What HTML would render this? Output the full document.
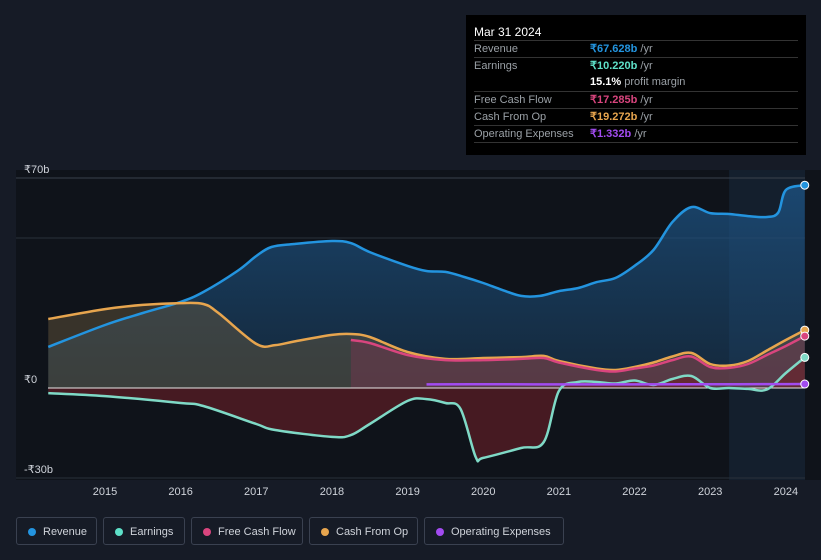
<!DOCTYPE html>
<html><head><meta charset="utf-8"><style>
body{margin:0;background:#161b26;font-family:"Liberation Sans",sans-serif;}
#wrap{position:relative;width:821px;height:560px;overflow:hidden;background:#161b26}
.tip{position:absolute;left:466px;top:15px;width:340px;height:140px;background:#000;color:#fff;font-size:11px}
.tip .h{position:absolute;left:8px;top:10px;font-size:12px}
.row{position:absolute;left:8px;width:324px;height:17px;border-top:1px solid #333;line-height:17px}
.row .l{position:absolute;left:0;color:#9aa0a6}
.row .v{position:absolute;left:116px;font-weight:bold}
.row .v span{color:#9aa0a6;font-weight:normal}
.leg{position:absolute;top:517px;height:28px;border:1px solid #3a4150;border-radius:3px;color:#cfd3da;font-size:11px;line-height:28px;box-sizing:border-box;padding-left:26px}
.leg i{position:absolute;left:11px;top:10px;width:8px;height:8px;border-radius:50%}
</style></head><body>
<div id="wrap">
<svg id="svg" width="821" height="560" style="position:absolute;left:0;top:0"><defs><linearGradient id="rg" x1="0" y1="0" x2="0" y2="1"><stop offset="0" stop-color="#1d5486" stop-opacity="0.75"/><stop offset="1" stop-color="#1d4e78" stop-opacity="0.35"/></linearGradient></defs></svg>
<div class="tip">
<div class="h">Mar 31 2024</div>
<div class="row" style="top:25px"><span class="l">Revenue</span><span class="v" style="color:#2394df">₹67.628b <span>/yr</span></span></div>
<div class="row" style="top:42px"><span class="l">Earnings</span><span class="v" style="color:#5ee0c8">₹10.220b <span>/yr</span></span></div>
<div class="row" style="top:59px;border-top:none"><span class="v" style="color:#fff">15.1% <span>profit margin</span></span></div>
<div class="row" style="top:76px"><span class="l">Free Cash Flow</span><span class="v" style="color:#d9457e">₹17.285b <span>/yr</span></span></div>
<div class="row" style="top:93px"><span class="l">Cash From Op</span><span class="v" style="color:#e7a54e">₹19.272b <span>/yr</span></span></div>
<div class="row" style="top:110px"><span class="l">Operating Expenses</span><span class="v" style="color:#a24bf0">₹1.332b <span>/yr</span></span></div>
<div class="row" style="top:127px;height:1px"></div>
</div>
<div class="leg" style="left:16px;width:81px"><i style="background:#2394df"></i>Revenue</div>
<div class="leg" style="left:103px;width:82px"><i style="background:#5ee0c8"></i>Earnings</div>
<div class="leg" style="left:191px;width:112px"><i style="background:#d9457e"></i>Free Cash Flow</div>
<div class="leg" style="left:309px;width:109px"><i style="background:#e7a54e"></i>Cash From Op</div>
<div class="leg" style="left:424px;width:140px"><i style="background:#a24bf0"></i>Operating Expenses</div>
</div>
<script>
const yearTicks=[2015,2016,2017,2018,2019,2020,2021,2022,2023,2024];
const yTicks=[70,0,-30];
const yTickLabels=["₹70b","₹0","-₹30b"];
const revT=[2014.25,2015,2015.5,2016,2016.3,2016.75,2017,2017.2,2017.5,2018,2018.25,2018.5,2019,2019.25,2019.5,2019.75,2020,2020.25,2020.5,2020.75,2021,2021.25,2021.5,2021.75,2022,2022.25,2022.5,2022.75,2023,2023.25,2023.5,2023.75,2023.9,2024,2024.25];
const revV=[13.7,21,25,28.7,32,39,44,47,48,49,48.3,45.3,40.7,39,38.7,37,35,32.7,30.7,30.7,32.3,33.3,35.3,36.7,40.7,46,55.3,60.3,58.3,58,57.3,57,58.5,66,67.6];
const earnT=[2014.25,2015,2016,2016.3,2017,2017.25,2018,2018.25,2018.5,2019,2019.25,2019.5,2019.7,2019.9,2020,2020.5,2020.8,2021,2021.25,2021.5,2021.75,2022,2022.25,2022.5,2022.75,2023,2023.25,2023.5,2023.75,2024,2024.25];
const earnV=[-1.7,-2.7,-5,-6,-12,-14,-16.3,-15.7,-12,-4.3,-3.7,-5,-7,-23,-23.3,-20,-18,-1,2,2,1.5,2.5,1,3,4,0,0,-0.3,-0.5,5,10.2];
const cfoT=[2014.25,2015,2015.5,2016,2016.3,2016.5,2017,2017.25,2017.5,2018,2018.25,2018.5,2019,2019.5,2020,2020.5,2020.8,2021,2021.5,2021.75,2022,2022.25,2022.5,2022.75,2023,2023.25,2023.5,2023.75,2024,2024.25];
const cfoV=[23,26.3,27.7,28.3,28,25,14.7,14.3,15.5,17.7,18,17,12,9.7,10,10.3,10.7,9,6.5,6,7,8.5,10.5,11.7,8,7.5,9,12.5,16,19.3];
const fcfT=[2018.25,2018.5,2019,2019.5,2020,2020.5,2020.8,2021,2021.5,2021.75,2022,2022.25,2022.5,2022.75,2023,2023.25,2023.5,2023.75,2024,2024.25];
const fcfV=[16,15,11,9.3,9.3,9.7,10,8.5,6,5.5,6.5,7.5,9.3,10.5,7,6.7,8,11,14,17.3];
const opxT=[2019.25,2020,2021,2022,2023,2024,2024.25];
const opxV=[1.2,1.25,1.2,1.2,1.25,1.3,1.33];

const X=t=>105+(t-2015)*75.65, Y=v=>388-v*3;
const svg=document.getElementById('svg'),NS='http://www.w3.org/2000/svg';
function mk(tag,at,name){const e=document.createElementNS(NS,tag);for(const k in at)e.setAttribute(k,at[k]);


svg.appendChild(e);return e;}
function path(T,V){const p=T.map((t,i)=>[X(t),Y(V[i])]);let d='M'+p[0][0]+','+p[0][1];
for(let i=0;i<p.length-1;i++){const p0=p[i-1]||p[i],p1=p[i],p2=p[i+1],p3=p[i+2]||p2;
d+=`C${p1[0]+(p2[0]-p0[0])/6},${p1[1]+(p2[1]-p0[1])/6} ${p2[0]-(p3[0]-p1[0])/6},${p2[1]-(p3[1]-p1[1])/6} ${p2[0]},${p2[1]}`;}return d;}
function area(T,V){return path(T,V)+`L${X(T[T.length-1])},${Y(0)}L${X(T[0])},${Y(0)}Z`;}
mk('rect',{x:16,y:170,width:805,height:310,fill:'#0f131a'},'plot-bg');
mk('rect',{x:X(2023.25),y:170,width:805-X(2023.25),height:310,fill:'#17283a',opacity:0.6},'forecast-highlight');
mk('line',{x1:16,x2:805,y1:Y(70),y2:Y(70),stroke:'#3a404c'},'gridline-70');
mk('line',{x1:16,x2:805,y1:Y(50),y2:Y(50),stroke:'#2a303a'},'gridline-50');
mk('line',{x1:16,x2:805,y1:Y(-30),y2:Y(-30),stroke:'#2a303a'},'gridline-neg30');
yTicks.forEach((v,i)=>{const t=mk('text',{x:24,y:Y(v)-5,fill:'#cfd3da','font-size':11},'y-tick-label');t.textContent=yTickLabels[i];});
yearTicks.forEach(y=>{const t=mk('text',{x:X(y),y:495,fill:'#cfd3da','font-size':11,'text-anchor':'middle'},'x-tick-label');t.textContent=y;});
mk('path',{d:area(revT,revV),fill:'url(#rg)'},'revenue-area');
mk('path',{d:area(cfoT,cfoV),fill:'#6b5a3e',opacity:0.45},'cash-from-op-area');
mk('path',{d:area(fcfT,fcfV),fill:'#7a3550',opacity:0.45},'free-cash-flow-area');
mk('path',{d:area(earnT,earnV),fill:'#6a1f28',opacity:0.6},'earnings-area');
mk('line',{x1:48,x2:805,y1:Y(0),y2:Y(0),stroke:'#e8e8e8','stroke-width':1},'zero-line');
[[revT,revV,'#2394df','revenue-line'],[earnT,earnV,'#7fd9c6','earnings-line'],[cfoT,cfoV,'#e7a54e','cash-from-op-line'],[fcfT,fcfV,'#d9457e','free-cash-flow-line'],[opxT,opxV,'#a24bf0','operating-expenses-line']].forEach(s=>{
mk('path',{d:path(s[0],s[1]),fill:'none',stroke:s[2],'stroke-width':2.5},s[3]);
const n=s[0].length-1;mk('circle',{cx:X(s[0][n]),cy:Y(s[1][n]),r:4,fill:s[2],stroke:'#fff','stroke-width':1},s[3]+'-end-dot');});
</script>
</body></html>
